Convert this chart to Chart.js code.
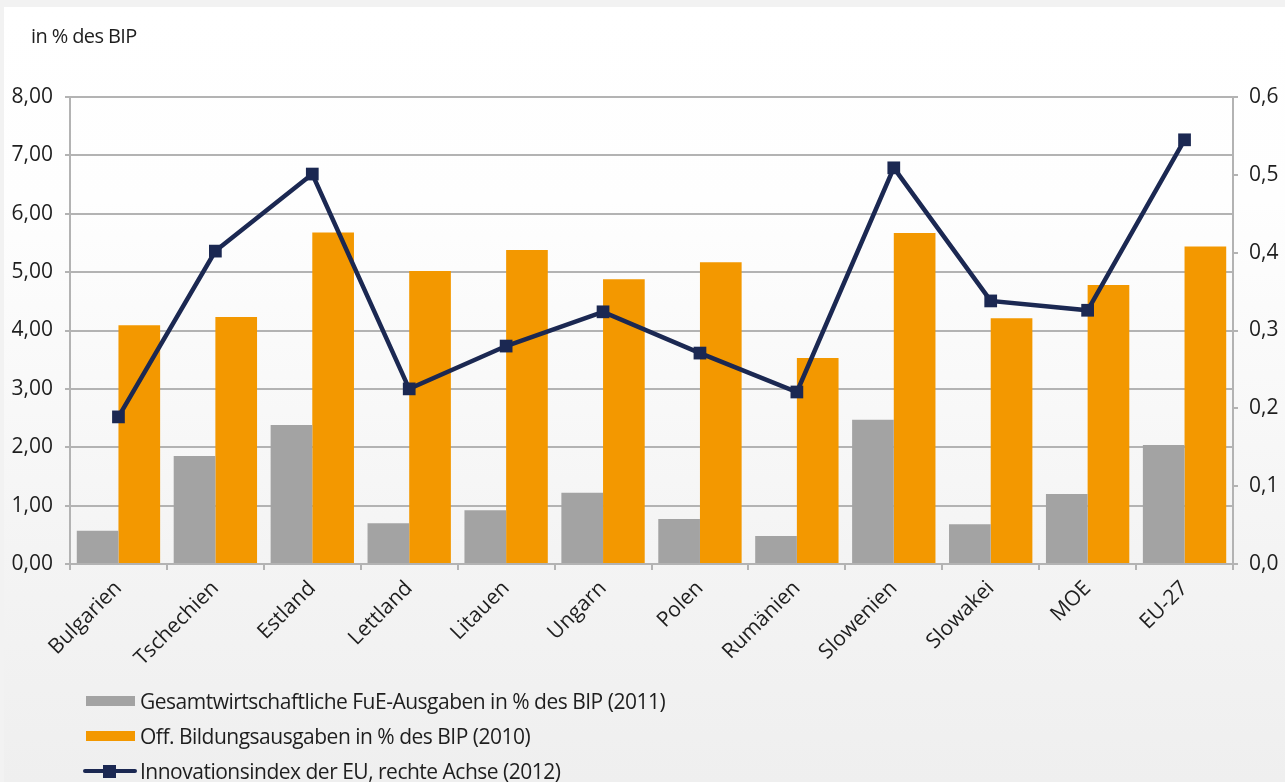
<!DOCTYPE html>
<html lang="de">
<head>
<meta charset="utf-8">
<title>FuE- und Bildungsausgaben, Innovationsindex</title>
<script src="https://cdn.jsdelivr.net/npm/chart.js@4/dist/chart.umd.min.js"></script>
<style>
  html, body { margin: 0; padding: 0; }
  body {
    width: 1285px; height: 782px; overflow: hidden; position: relative;
    background: #f2f2f2;
    font-family: "Open Sans", "Noto Sans", "DejaVu Sans", sans-serif;
    color: #1e1e1e;
  }
  #panel {
    position: absolute; left: 4px; top: 7px; right: 0; bottom: 0;
    background: linear-gradient(to bottom, #ffffff 0%, #fefefe 25%, #f4f4f4 70%, #efefef 100%);
  }
  #wrap { position: absolute; left: 0; top: 0; width: 1285px; height: 782px; }
  #unit {
    position: absolute; left: 31px; top: 22px;
    font-size: 20px; letter-spacing: -0.6px;
  }
  #legend {
    position: absolute; left: 83px; top: 683px;
    font-size: 21px; letter-spacing: -0.5px;
  }
  .item { display: flex; align-items: center; height: 35px; }
  .swatch { position: relative; width: 54px; height: 14px; margin-right: 3px; }
  .box { position: absolute; left: 3px; top: 2px; width: 49px; height: 10px; }
  .ln { position: absolute; left: 0; top: 5px; width: 54px; height: 4px; border-radius: 2px; }
  .mk { position: absolute; left: 20px; top: 1px; width: 13px; height: 13px; }
</style>
</head>
<body>
<div id="panel"></div>
<div id="wrap"><canvas id="chart" width="1285" height="782"></canvas></div>
<div id="unit">in % des BIP</div>
<div id="legend"></div>
<script>
// Länder / Ländergruppen
const categories = ['Bulgarien', 'Tschechien', 'Estland', 'Lettland', 'Litauen', 'Ungarn',
  'Polen', 'Rumänien', 'Slowenien', 'Slowakei', 'MOE', 'EU-27'];

// Gesamtwirtschaftliche FuE-Ausgaben in % des BIP (2011)
const fueAusgaben = [0.57, 1.85, 2.38, 0.70, 0.92, 1.22, 0.77, 0.48, 2.47, 0.68, 1.20, 2.04];

// Öffentliche Bildungsausgaben in % des BIP (2010)
const bildungsausgaben = [4.09, 4.23, 5.68, 5.02, 5.38, 4.88, 5.17, 3.53, 5.67, 4.21, 4.78, 5.44];

// Innovationsindex der EU (2012), rechte Achse
const innovationsindex = [0.189, 0.402, 0.501, 0.225, 0.280, 0.324, 0.271, 0.221, 0.509, 0.338, 0.326, 0.545];

// Achsenbereiche
const leftTicks = [0, 1, 2, 3, 4, 5, 6, 7, 8];
const rightTicks = [0, 0.1, 0.2, 0.3, 0.4, 0.5, 0.6];

const seriesLabels = [
  'Gesamtwirtschaftliche FuE-Ausgaben in % des BIP (2011)',
  'Off. Bildungsausgaben in % des BIP (2010)',
  'Innovationsindex der EU, rechte Achse (2012)'
];

const GRAY = '#a3a3a3', ORANGE = '#f39800', NAVY = '#1b2852', GRID = '#b3b3b3';
const FONT = '"Open Sans", "Noto Sans", "DejaVu Sans", sans-serif';
const comma = (v, d) => v.toFixed(d).replace('.', ',');

const chart = new Chart(document.getElementById('chart'), {
  type: 'bar',
  data: {
    labels: categories,
    datasets: [
      { type: 'line', label: seriesLabels[2], data: innovationsindex, yAxisID: 'yR', order: 0,
        borderColor: NAVY, backgroundColor: NAVY, borderWidth: 4.5, tension: 0,
        pointStyle: 'rect', pointRadius: 9, pointHoverRadius: 9, pointBorderWidth: 0 },
      { label: seriesLabels[0], data: fueAusgaben, yAxisID: 'y', order: 1,
        backgroundColor: GRAY, categoryPercentage: 0.86, barPercentage: 1.0 },
      { label: seriesLabels[1], data: bildungsausgaben, yAxisID: 'y', order: 1,
        backgroundColor: ORANGE, categoryPercentage: 0.86, barPercentage: 1.0 }
    ]
  },
  options: {
    responsive: false,
    animation: false,
    layout: { padding: { top: 97, left: 0, right: 0, bottom: 0 } },
    plugins: { legend: { display: false }, tooltip: { enabled: false }, title: { display: false } },
    font: { family: FONT },
    scales: {
      x: {
        offset: true,
        grid: { display: true, offset: true, drawOnChartArea: false, color: GRID, lineWidth: 2, tickLength: 6 },
        border: { display: true, color: GRID, width: 2 },
        ticks: { color: '#1e1e1e', font: { family: FONT, size: 21 }, minRotation: 45, maxRotation: 45,
                 autoSkip: false, padding: 6 },
        afterFit: s => { s.height = 782 - 564; }
      },
      y: {
        position: 'left', min: 0, max: 8,
        afterBuildTicks: s => { s.ticks = leftTicks.map(v => ({ value: v })); },
        grid: { color: GRID, lineWidth: 2, tickLength: 5 },
        border: { display: true, color: GRID, width: 2 },
        ticks: { color: '#1e1e1e', font: { family: FONT, size: 21 }, padding: 12,
                 callback: v => comma(v, 2) },
        afterFit: s => { s.width = 70; }
      },
      yR: {
        position: 'right', min: 0, max: 0.6,
        afterBuildTicks: s => { s.ticks = rightTicks.map(v => ({ value: v })); },
        grid: { drawOnChartArea: false, color: GRID, lineWidth: 2, tickLength: 5 },
        border: { display: true, color: GRID, width: 2 },
        ticks: { color: '#1e1e1e', font: { family: FONT, size: 21 }, padding: 11,
                 callback: v => comma(v, 1) },
        afterFit: s => { s.width = 1285 - 1233; }
      }
    }
  }
});

// Legende (senkrecht, links unten)
const legend = document.getElementById('legend');
[1, 2, 0].forEach(i => {
  const ds = chart.data.datasets[i];
  const row = document.createElement('div');
  row.className = 'item';
  const sw = document.createElement('span');
  sw.className = 'swatch';
  if (ds.type === 'line') {
    sw.innerHTML = '<span class="ln"></span><span class="mk"></span>';
    sw.querySelector('.ln').style.background = ds.borderColor;
    sw.querySelector('.mk').style.background = ds.borderColor;
  } else {
    sw.innerHTML = '<span class="box"></span>';
    sw.querySelector('.box').style.background = ds.backgroundColor;
  }
  const txt = document.createElement('span');
  txt.textContent = ds.label;
  row.appendChild(sw);
  row.appendChild(txt);
  legend.appendChild(row);
});
</script>
</body>
</html>
